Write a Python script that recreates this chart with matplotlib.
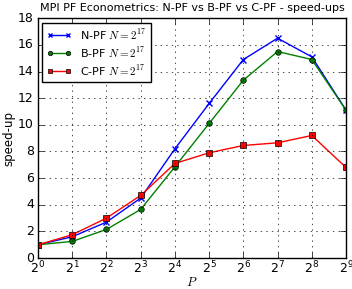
import matplotlib
matplotlib.use("Agg")
import matplotlib.pyplot as plt
import matplotlib.ticker as mticker

plt.style.use("classic")

procs = [1, 2, 4, 8, 16, 32, 64, 128, 256, 512]
npf = [1.0, 1.6, 2.7, 4.5, 8.2, 11.6, 14.9, 16.5, 15.1, 11.1]
bpf = [1.0, 1.25, 2.15, 3.65, 6.85, 10.1, 13.35, 15.5, 14.9, 11.1]
cpf = [1.0, 1.75, 3.0, 4.7, 7.1, 7.9, 8.45, 8.65, 9.2, 6.8]

fig = plt.figure(figsize=(3.52, 2.89), dpi=100)
ax = fig.add_axes([0.108, 0.107, 0.875, 0.83])

ax.plot(procs, npf, "b-x", label=r"N-PF $N=2^{17}$", markersize=4, mew=1)
ax.plot(procs, bpf, "g-o", label=r"B-PF $N=2^{17}$", markersize=4)
ax.plot(procs, cpf, "r-s", label=r"C-PF $N=2^{17}$", markersize=4)

ax.set_xscale("log", base=2)
ax.set_xlim(1, 512)
ax.set_ylim(0, 18)
ax.xaxis.set_minor_locator(mticker.NullLocator())
ax.grid(True)
ax.tick_params(labelsize=9)
ax.tick_params(axis="x", pad=1)
ax.tick_params(axis="y", pad=3)

ax.set_xlabel(r"$P$", fontsize=9, labelpad=0)
ax.set_ylabel("speed-up", fontsize=8.5, labelpad=2)
ax.set_title("MPI PF Econometrics: N-PF vs B-PF vs C-PF - speed-ups", fontsize=8)
ax.legend(loc="upper left", fontsize=8, labelspacing=0.3, markerscale=0.8,
          borderaxespad=0.4, handlelength=2.2)

fig.savefig("out.png", dpi=100)
